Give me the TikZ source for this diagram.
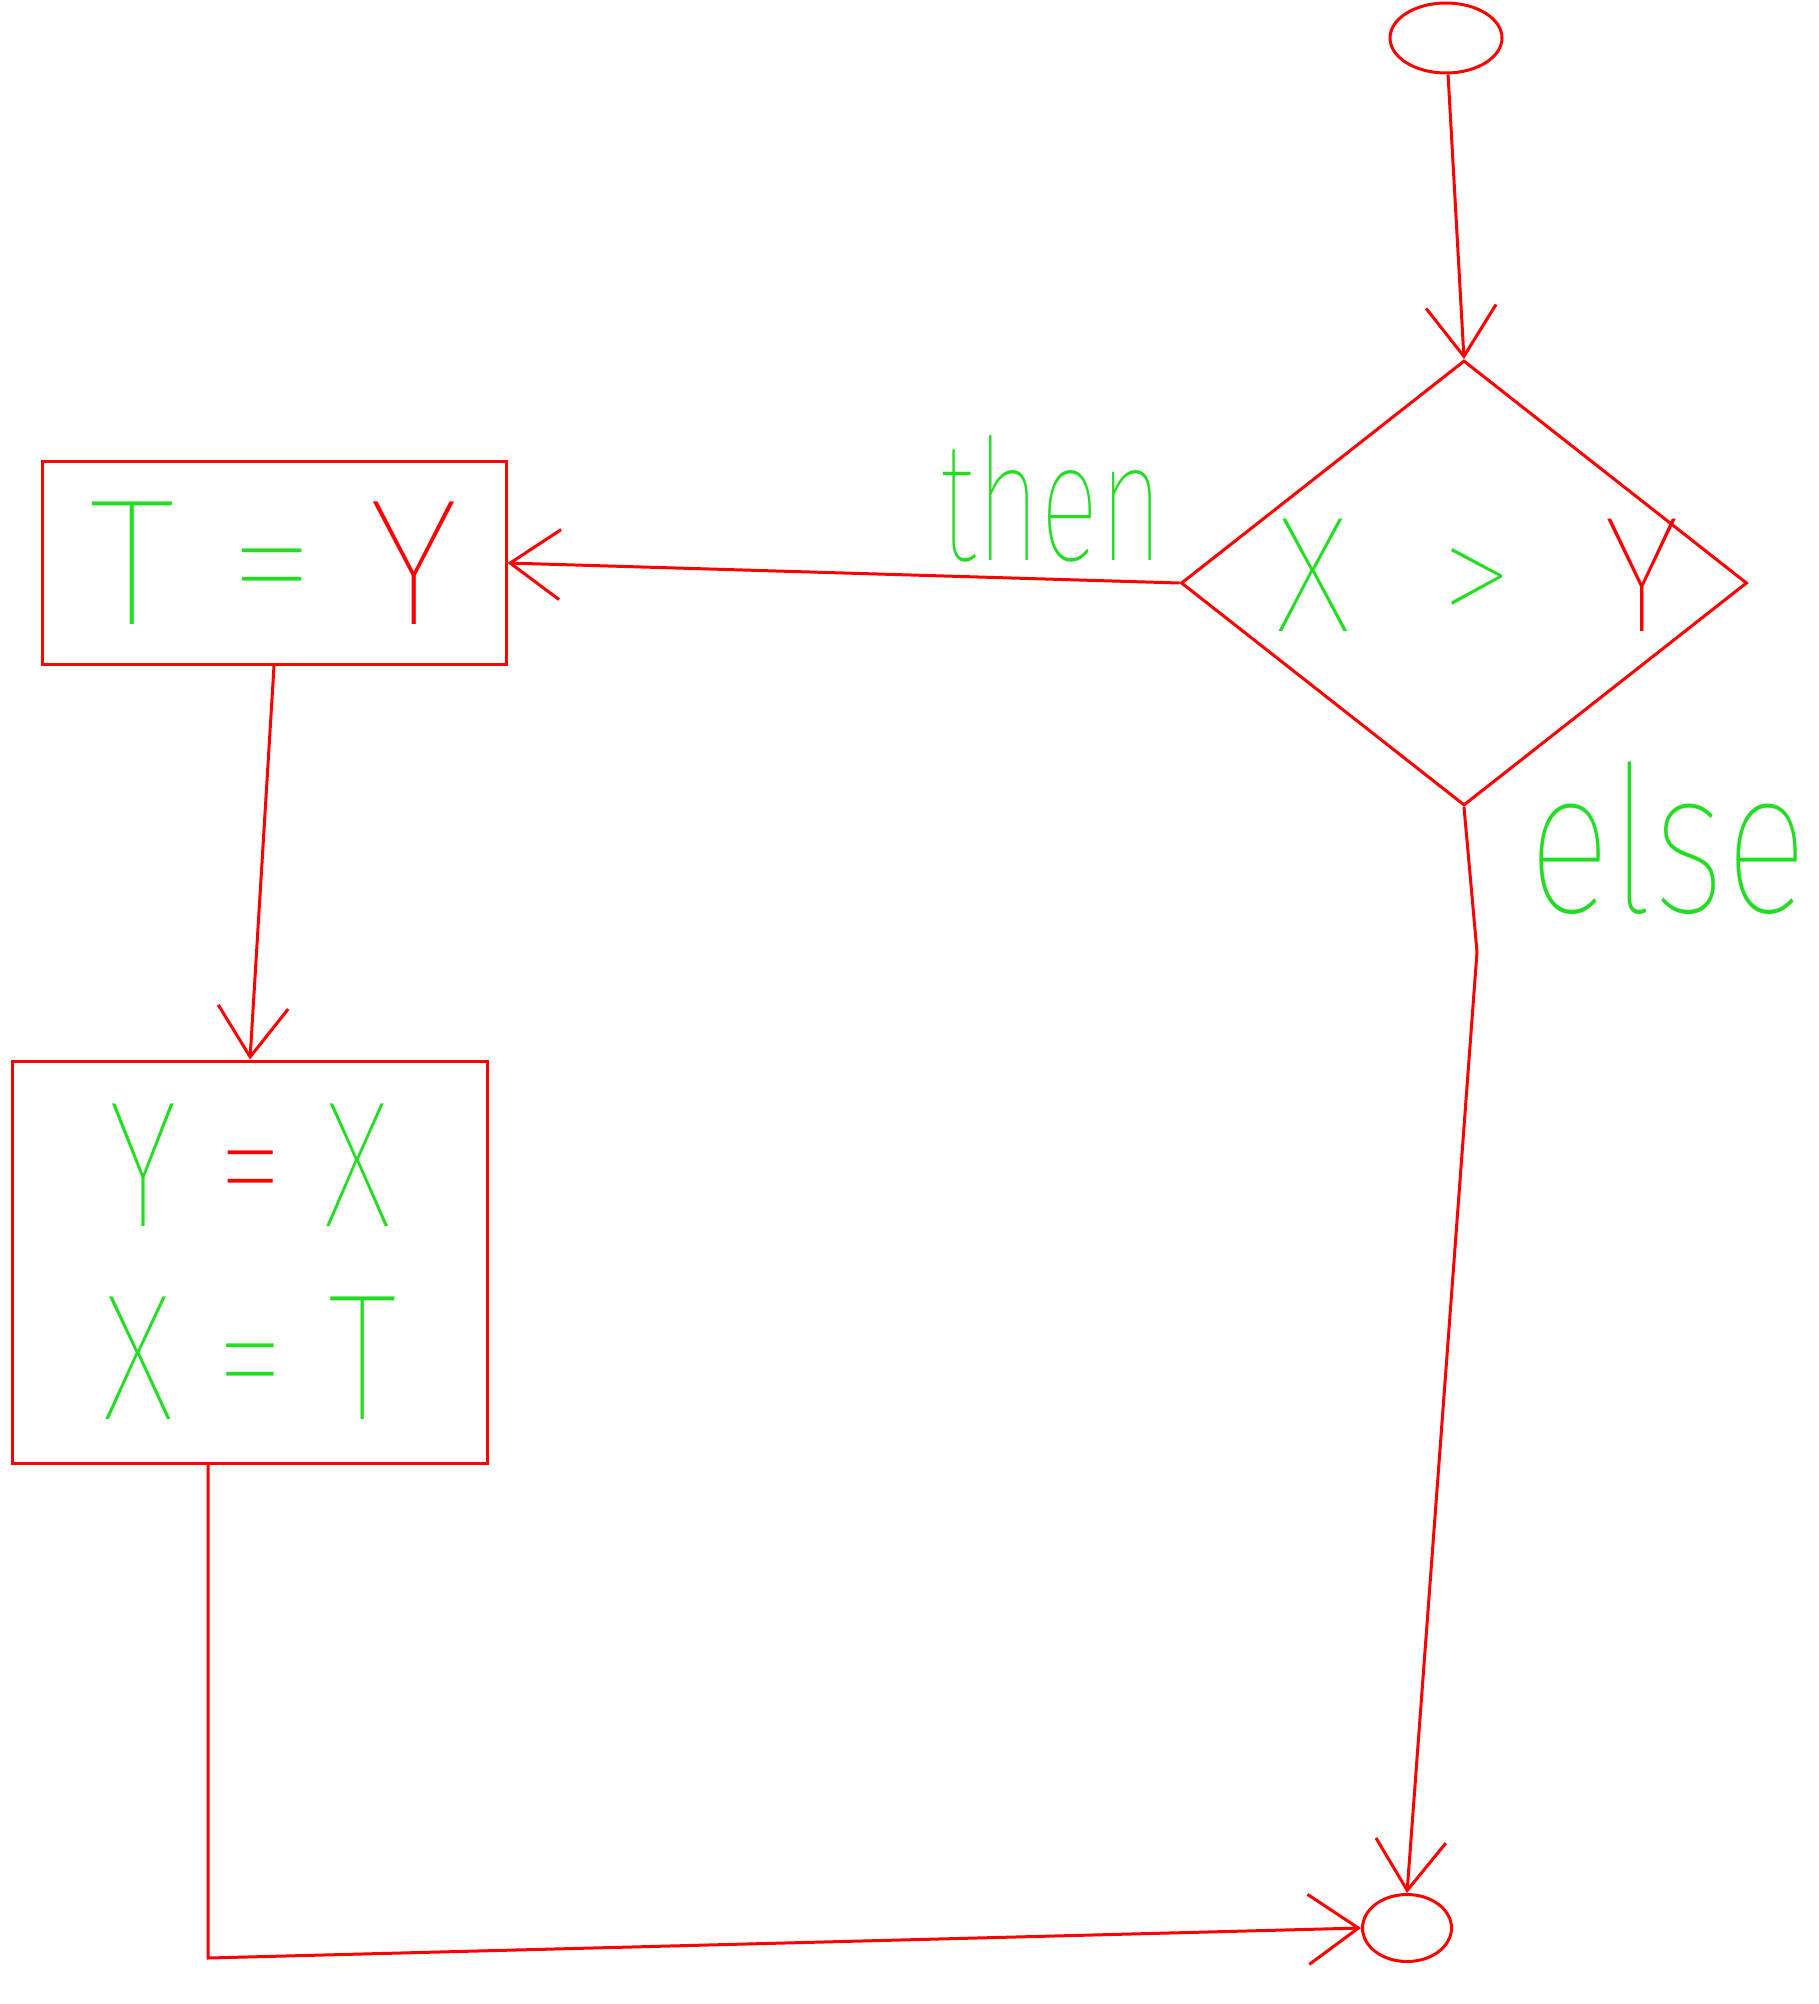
\documentclass[tikz,border=0pt]{standalone}
\usepackage{fontspec}
\usepackage{graphicx}
\setmainfont{Fira Sans Thin}
\usetikzlibrary{arrows.meta,shapes.geometric}
\definecolor{hred}{RGB}{255,0,0}
\definecolor{hgreen}{RGB}{34,221,34}
\begin{document}
\begin{tikzpicture}[x=1pt,y=-1pt,
  hline/.style={draw=hred, line width=3pt},
  harrow/.style={hline, -{Straight Barb[length=50pt,width=70pt]}},
  boxnode/.style={draw=hred, line width=3pt, rectangle, inner sep=0pt, text=hgreen},
  lbl/.style={text=hgreen, inner sep=0pt},
  bigfont/.style={font=\fontsize{180}{193}\selectfont}]
\useasboundingbox (0,0) rectangle (1818,2004);
% nodes
\node[boxnode, ellipse, minimum width=112pt, minimum height=70pt] (start) at (1446,38) {};
\node[boxnode, diamond, minimum width=566pt, minimum height=445pt] (dia) at (1464,583) {};
\node[lbl, font=\fontsize{165}{170}\selectfont] (cond) at (1478,575) {\scalebox{0.92}[1]{X \ > \ \textcolor{hred}{Y}}};
\node[boxnode, bigfont, minimum width=464pt, minimum height=203pt] (box1) at (274,563) {T = \textcolor{hred}{Y}};
\node[boxnode, bigfont, align=center, minimum width=475pt, minimum height=402pt] (box2) at (250,1262) {\scalebox{0.76}[1]{Y \textcolor{hred}{=} X}\\\scalebox{0.8}[1]{X = T}};
\node[boxnode, ellipse, minimum width=89pt, minimum height=67pt] (stop) at (1407,1928) {};
% labels
\node[lbl, anchor=base, font=\fontsize{170}{170}\selectfont] (thenlbl) at (1052,560) {\scalebox{0.65}[1]{then}};
\node[lbl, anchor=base, font=\fontsize{205}{205}\selectfont] (elselbl) at (1668,912) {\scalebox{0.76}[1]{else}};
% connectors
\coordinate (corner) at (208,1958);
\coordinate (bend) at (1477,952);
\draw[harrow] (start) -- (dia.north);
\draw[harrow] (dia.west) -- (box1.east);
\draw[harrow] (box1.south) -- (box2.north);
\draw[harrow] (box2.south -| corner) -- (corner) -- (stop.west);
\draw[harrow] (dia.south) -- (bend) -- (stop.north);
\end{tikzpicture}
\end{document}
